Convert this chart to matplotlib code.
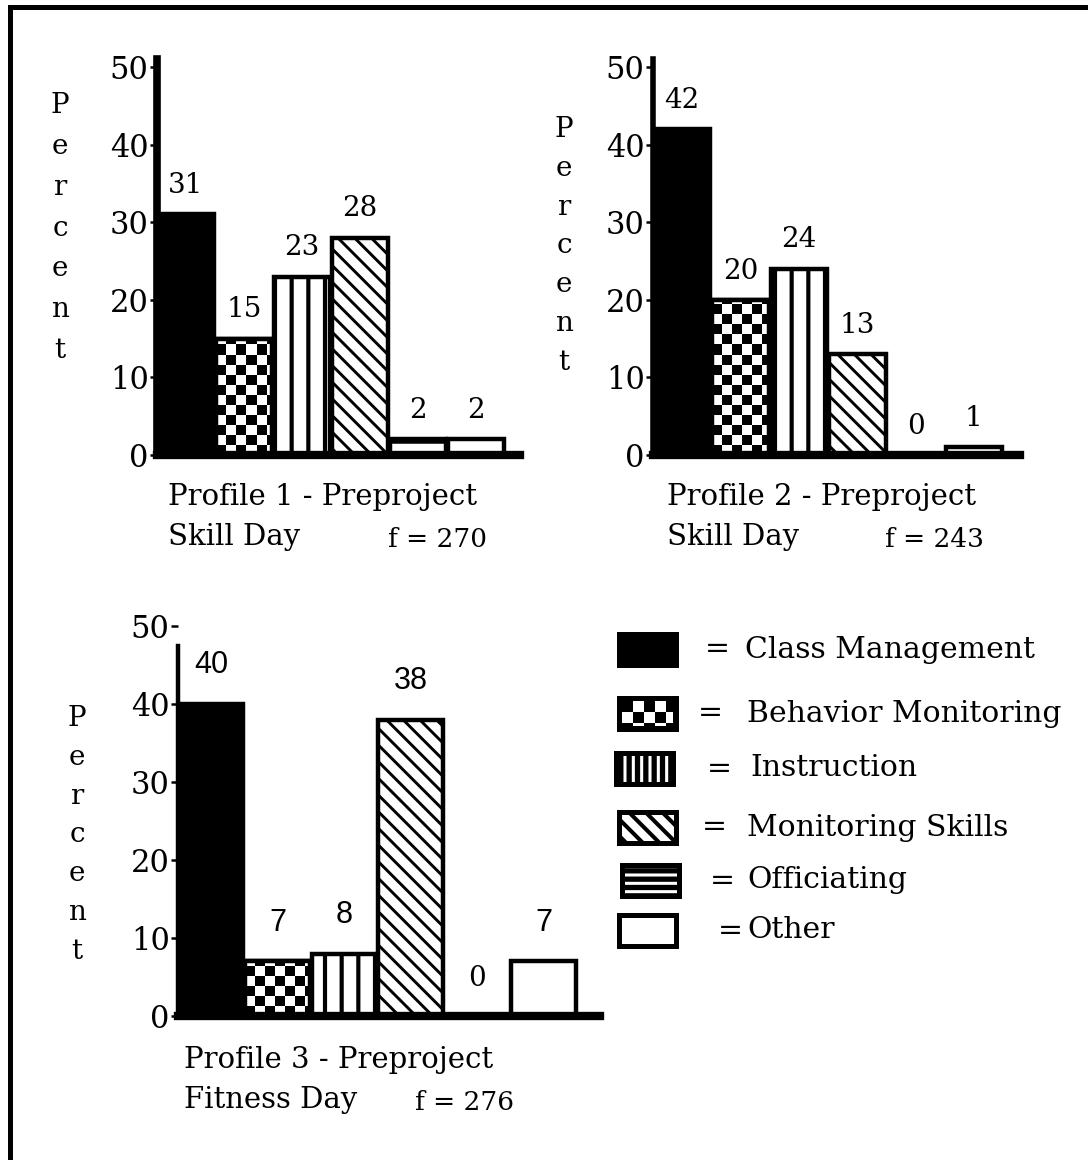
import numpy as np
import matplotlib
matplotlib.use("Agg")
import matplotlib.pyplot as plt
from matplotlib.patches import Rectangle
from matplotlib.lines import Line2D

plt.rcParams['font.family'] = ['DejaVu Serif']
plt.rcParams['hatch.linewidth'] = 3.0

# ---------------- data ----------------
categories = ["Class Management", "Behavior Monitoring", "Instruction",
              "Monitoring Skills", "Officiating", "Other"]
profile1 = [31, 15, 23, 28, 2, 2]
profile2 = [42, 20, 24, 13, 0, 1]
profile3 = [40, 7, 8, 38, 0, 7]
yticks = [0, 10, 20, 30, 40, 50]
titles = ["Profile 1 - Preproject", "Profile 2 - Preproject", "Profile 3 - Preproject"]
subtitles = ["Skill Day", "Skill Day", "Fitness Day"]
freqs = ["f = 270", "f = 243", "f = 276"]
ylabel_text = "Percent"

# ---------------- styles ----------------
faces = ['black', 'white', 'white', 'white', 'white', 'white']
hatches = [None, 'checker', '|', '\\\\', '-', None]
hatch_lw = [3.0, 3.0, 3.0, 2.1, 3.0, 3.0]
legend_hatches = [None, 'checker', '||', '\\\\', '--', None]


def set_hatch(patch, h, lw):
    patch.set_hatch(h)
    try:
        patch.set_hatch_linewidth(lw)
    except AttributeError:
        pass


W, H = 1088, 1160
fig = plt.figure(figsize=(W / 100, H / 100), dpi=100)


def add_axes(left_px, right_px, y0_px, ppu, ymin, ymax):
    bottom_px = y0_px - ymin * ppu
    top_px = y0_px - ymax * ppu
    return fig.add_axes([left_px / W, 1 - bottom_px / H,
                         (right_px - left_px) / W, (bottom_px - top_px) / H])


def checker_fill(ax, patch, cell_x, cell_y, zorder):
    x0, y0 = patch.get_x(), patch.get_y()
    w, h = patch.get_width(), patch.get_height()
    if h <= 0:
        return
    nx = int(np.ceil(w / cell_x))
    ny = int(np.ceil(h / cell_y))
    arr = (np.add.outer(np.arange(ny), np.arange(nx)) % 2).astype(float)
    im = ax.imshow(arr, extent=(x0, x0 + nx * cell_x, y0, y0 + ny * cell_y),
                   origin='lower', cmap='gray', interpolation='nearest',
                   aspect='auto', zorder=zorder, vmin=0, vmax=1)
    im.set_clip_path(patch)


def panel(values, left_px, right_px, y0_px, ppu, xmax, spine_top, left_lw,
          label_offset=11, value_family=None, value_size=20):
    ax = add_axes(left_px, right_px, y0_px, ppu, 0, 51)
    x = np.arange(len(values))
    bars = ax.bar(x, values, width=0.97, color=faces, edgecolor='black',
                  linewidth=3.2, zorder=2)
    xunit_px = (right_px - left_px) / (xmax + 0.5)
    for b, h, hl in zip(bars, hatches, hatch_lw):
        if h == 'checker':
            checker_fill(ax, b, 10 / xunit_px, 10 / ppu, 2.1)
            ax.add_patch(Rectangle((b.get_x(), b.get_y()), b.get_width(),
                                   b.get_height(), fill=False, ec='black',
                                   lw=3.2, zorder=2.2))
        elif h is not None:
            set_hatch(b, h, hl)
    for xi, v in zip(x, values):
        fam = value_family(v) if value_family else ['DejaVu Serif']
        size = value_size if fam != ['DejaVu Serif'] else 20
        ax.annotate(str(v), (xi, v), xytext=(0, label_offset),
                    textcoords='offset points', ha='center', va='bottom',
                    fontsize=size, family=fam)
    ax.set_xlim(-0.5, xmax)
    ax.set_ylim(0, 51)
    ax.set_xticks([])
    ax.set_yticks(yticks)
    ax.tick_params(axis='y', length=5, width=1.8, pad=1, labelsize=22,
                   direction='out')
    for s in ['top', 'right']:
        ax.spines[s].set_visible(False)
    ax.spines['left'].set_linewidth(left_lw)
    ax.spines['left'].set_bounds(0, spine_top)
    ax.spines['bottom'].set_linewidth(6.0)
    ax.spines['bottom'].set_zorder(3)
    ax.spines['left'].set_zorder(3)
    ax.set_facecolor('none')
    return ax


panel(profile1, 157, 520, 455, 7.76, 5.76, 51, 5.5)
panel(profile2, 653, 1020, 455, 7.76, 5.79, 51, 4.0)
panel(profile3, 178, 600, 1016, 7.8, 5.85, 47.5, 3.2, label_offset=17,
      value_family=lambda v: ['Liberation Sans'] if v > 0 else ['DejaVu Serif'],
      value_size=22)

# vertical "Percent" labels
stacked = "\n".join(list(ylabel_text))
for (px, py, ls) in [(60, 92, 1.66), (564, 116, 1.56), (77, 705, 1.56)]:
    fig.text(px / W, 1 - py / H, stacked, ha='center', va='top',
             multialignment='center', fontsize=20, linespacing=ls)

# captions
cap_pos = [(168, 497, 537, 388), (667, 497, 537, 885), (184, 1060, 1100, 415)]
for (t, s, f, (cx, y1, y2, fx)) in zip(titles, subtitles, freqs, cap_pos):
    fig.text(cx / W, 1 - y1 / H, t, ha='left', va='center', fontsize=21)
    fig.text(cx / W, 1 - y2 / H, s, ha='left', va='center', fontsize=21)
    fig.text(fx / W, 1 - (y2 + 3) / H, f, ha='left', va='center', fontsize=19)

# legend (overlay axes in pixel coordinates)
lax = fig.add_axes([0, 0, 1, 1])
lax.set_xlim(0, W)
lax.set_ylim(H, 0)
lax.axis('off')
leg_rows = [
    (619, 634, 705, 745),
    (619, 698, 698, 747),
    (616, 753, 707, 750),
    (619, 812, 702, 747),
    (622, 865, 710, 747),
    (619, 915, 718, 747),
]
for cat, face, h, hl, (px, py, ex, tx) in zip(categories, faces, legend_hatches,
                                              hatch_lw, leg_rows):
    pw, ph = 57, 31
    rect = Rectangle((px, py), pw, ph, facecolor=face, edgecolor='black',
                     lw=3.6, zorder=2)
    lax.add_patch(rect)
    if h == 'checker':
        rect.set_facecolor('black')
        checker_fill(lax, Rectangle((px + 3, py + 3), pw - 6, ph - 6,
                                    transform=lax.transData), 11, 11, 2.1)
        lax.add_patch(Rectangle((px, py), pw, ph, fill=False, ec='black',
                                lw=3.6, zorder=2.2))
    elif h is not None:
        set_hatch(rect, h, hl + 0.8)
    cy = py + ph / 2
    lax.text(ex, cy, "=", ha='left', va='center', fontsize=21.5)
    lax.text(tx, cy, cat, ha='left', va='center', fontsize=21.5)

# outer frame (left and top)
fig.add_artist(Line2D([10 / W, 10 / W], [0, 1 - 7 / H], color='black', lw=3.6,
                      transform=fig.transFigure))
fig.add_artist(Line2D([10 / W, 1], [1 - 7 / H, 1 - 7 / H], color='black', lw=3.6,
                      transform=fig.transFigure))

fig.savefig("out.png", dpi=100, facecolor='white')
